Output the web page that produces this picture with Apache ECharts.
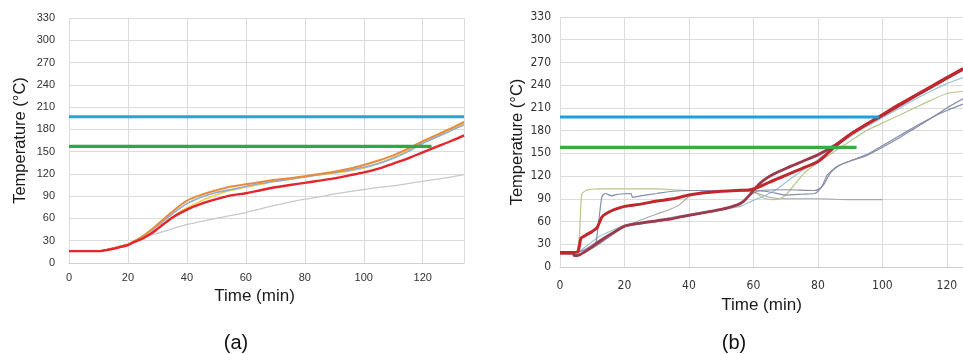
<!DOCTYPE html>
<html>
<head>
<meta charset="utf-8">
<script src="https://cdn.jsdelivr.net/npm/echarts@6/dist/echarts.min.js"></script>
<style>html,body{margin:0;padding:0;background:#fff}#c{width:963px;height:354px}</style>
</head>
<body>
<div id="c"></div>
<script>
// ---------- Data (a) ----------
var timeA = [0,5,10,12,15,18,20,22,25,28,30,35,40,45,50,55,60,65,70,75,80,85,90,95,100,105,110,115,120,125,130,134];
var aRed    = [16,16,16,17,19,22,24,28,33,40,46,61,72,80,86,91,94,98,102,105,108,111,114,118,122,127,134,141,149,157,165,172];
var aOrange = [16,16,16,17,20,23,25,29,36,45,52,69,84,92,98,103,106,109,112,114,117,120,123,127,132,138,145,154,164,173,182,190];
var aBlue   = [16,16,16,17,20,23,25,29,36,44,50,66,80,89,95,99,103,107,110,113,116,119,122,125,129,134,141,150,161,170,179,186];
var aYellow = [16,16,16,17,20,23,25,29,34,41,46,62,74,84,92,98,102,106,110,113,116,119,121,124,128,134,142,152,163,172,181,188];
var aGray   = [16,16,16,17,20,23,25,29,34,38,40,46,52,56,60,64,68,73,78,82,86,89,93,96,99,102,104,107,110,113,116,119];
var aLimitHigh = [[0,197],[134,197]];
var aLimitLow  = [[0,157],[123,157]];

// ---------- Data (b) ----------
var bRed = [[0,19],[3,19],[5.5,20],[6.5,38],[8,42],[10,47],[11.5,52],[13,66],[14.5,71],[17,76],[20,80],[25,83],[30,87],[35,90],[40,95],[45,98],[50,100],[55,101],[59,102],[62,106],[65,112],[70,121],[75,130],[80,139],[82,146],[85,158],[90,175],[95,188],[100,201],[105,214],[110,226],[115,238],[120,250],[125,262]];
var bMaroon = [[0,18],[4,18],[4.5,15],[6,16],[8,21],[10,27],[13,36],[16,44],[20,54],[25,58],[30,61],[35,64],[40,68],[45,72],[50,76],[55,82],[57,87],[59,96],[61,106],[63,114],[66,122],[70,130],[75,139],[80,148],[85,160],[90,175],[95,188],[100,200],[110,225],[120,249],[125,261]];
var bOlive = [[0,19],[5,20],[6,40],[6.7,95],[8,101],[12,103],[20,103],[30,103],[40,101],[50,101],[58,100],[61,97],[63,91],[66,89],[68,90],[70,95],[73,110],[76,125],[80,138],[85,152],[90,166],[95,180],[100,190],[105,200],[110,210],[115,220],[120,229],[125,232]];
var bSteel = [[0,19],[5,20],[9,24],[11,30],[12,60],[13,93],[14,97],[16,94],[18,96],[22,97],[22.5,92],[25,94],[30,97],[35,100],[40,101],[50,101],[60,101],[65,99],[70,95],[75,96],[79,97],[80,100],[82,110],[84,125],[87,135],[90,140],[95,148],[98,155],[102,165],[108,180],[113,192],[118,203],[125,215]];
var bPurple = [[0,19],[4,18],[5,16],[8,20],[12,30],[16,42],[20,53],[30,60],[40,68],[50,75],[56,84],[59,95],[62,101],[70,102],[79,101],[81,105],[83,122],[86,133],[90,140],[95,147],[100,158],[105,170],[110,183],[115,196],[120,210],[125,222]];
var bSky = [[0,19],[5,19],[8,27],[12,40],[16,48],[20,55],[30,62],[40,70],[50,76],[56,80],[60,88],[64,95],[68,105],[72,118],[76,130],[80,142],[85,158],[90,172],[95,185],[100,197],[105,209],[110,221],[115,232],[120,242],[125,250]];
var bGray = [[0,19],[5,19],[8,24],[12,35],[16,45],[20,53],[25,62],[30,70],[34,76],[37,82],[40,93],[44,99],[50,100],[55,100],[60,99],[65,92],[70,90],[80,90],[90,89],[100,89]];
var bLimitHigh = [[0,198],[99,198]];
var bLimitLow  = [[0,158],[92,158]];

function pairs(t, v){ return t.map(function(x,i){return [x, v[i]];}); }

var chart = echarts.init(document.getElementById('c'), null, {renderer:'canvas'});
var gridColor = '#dcdcdc';
var baseFont = "'Liberation Sans', Arial, sans-serif";
var narrowFont = "'Liberation Sans Narrow', 'DejaVu Sans Condensed', Arial, sans-serif";

function line(xi, data, color, width, z, smooth){
  return {type:'line', xAxisIndex:xi, yAxisIndex:xi, data:data, showSymbol:false, symbol:'none',
    smooth: smooth === undefined ? 0.3 : smooth, lineStyle:{color:color, width:width}, z:z, silent:true, animation:false};
}

chart.setOption({
  animation:false,
  backgroundColor:'#ffffff',
  grid:[
    {left:69, top:18, width:395, height:245},
    {left:560, top:17, width:403, height:250}
  ],
  xAxis:[
    {type:'value', gridIndex:0, min:0, max:134, interval:20,
     name:'Time (min)', nameLocation:'middle', nameGap:22,
     nameTextStyle:{fontSize:17, color:'#1a1a1a', fontFamily:baseFont, padding:[0,24,0,0]},
     axisLine:{show:true, lineStyle:{color:'#cfcfcf'}}, axisTick:{show:false},
     axisLabel:{fontSize:11, color:'#333', margin:9, fontFamily:baseFont, showMaxLabel:false},
     splitLine:{show:true, lineStyle:{color:gridColor, width:1}}},
    {type:'value', gridIndex:1, min:0, max:125, interval:20,
     name:'Time (min)', nameLocation:'middle', nameGap:27,
     nameTextStyle:{fontSize:17, color:'#1a1a1a', fontFamily:baseFont},
     axisLine:{show:true, lineStyle:{color:'#cfcfcf'}}, axisTick:{show:false},
     axisLabel:{fontSize:12, color:'#333', margin:13, fontFamily:narrowFont, showMaxLabel:false},
     splitLine:{show:true, lineStyle:{color:gridColor, width:1}}}
  ],
  yAxis:[
    {type:'value', gridIndex:0, min:0, max:330, interval:30,
     name:'Temperature (°C)', nameLocation:'middle', nameGap:40, nameRotate:90,
     nameTextStyle:{fontSize:16.5, color:'#1a1a1a', fontFamily:baseFont},
     axisLine:{show:false}, axisTick:{show:false},
     axisLabel:{fontSize:11, color:'#333', margin:14, fontFamily:baseFont},
     splitLine:{show:true, lineStyle:{color:gridColor, width:1}}},
    {type:'value', gridIndex:1, min:0, max:330, interval:30,
     name:'Temperature (°C)', nameLocation:'middle', nameGap:34, nameRotate:90,
     nameTextStyle:{fontSize:16.5, color:'#1a1a1a', fontFamily:baseFont},
     axisLine:{show:false}, axisTick:{show:false},
     axisLabel:{fontSize:12, color:'#333', margin:9, fontFamily:narrowFont},
     splitLine:{show:true, lineStyle:{color:gridColor, width:1}}}
  ],
  graphic:[
    {type:'text', style:{text:'(a)', x:236, y:343, fill:'#111', font:"20px 'Liberation Sans', Arial, sans-serif", textAlign:'center', textVerticalAlign:'middle'}},
    {type:'text', style:{text:'(b)', x:734, y:343, fill:'#111', font:"20px 'Liberation Sans', Arial, sans-serif", textAlign:'center', textVerticalAlign:'middle'}}
  ],
  series:[
    line(0, aLimitHigh, '#27a3dd', 3.2, 5, false),
    line(0, aLimitLow, '#2fa844', 3.2, 5, false),
    line(0, pairs(timeA, aGray), '#c9c9c9', 1.3, 2),
    line(0, pairs(timeA, aYellow), '#f3cc4a', 1.6, 3),
    line(0, pairs(timeA, aBlue), '#8eaad6', 1.6, 3),
    line(0, pairs(timeA, aOrange), '#e68c3c', 2, 4),
    line(0, pairs(timeA, aRed), '#e4252b', 2.4, 4),

    line(1, bLimitHigh, '#1fa0de', 3.2, 5, false),
    line(1, bLimitLow, '#39ab45', 3.2, 5, false),
    line(1, bGray, '#a7a7b0', 1.1, 2, 0.2),
    line(1, bOlive, '#bcc58f', 1.2, 2, 0.2),
    line(1, bSky, '#9ec3d8', 1.2, 2, 0.2),
    line(1, bSteel, '#7f8fae', 1.2, 2, 0.2),
    line(1, bPurple, '#8c8aa6', 1.2, 2, 0.2),
    line(1, bMaroon, '#9b3a4a', 2.8, 3, 0.2),
    line(1, bRed, '#c1272d', 3, 4, 0.2)
  ]
});
</script>
</body>
</html>
